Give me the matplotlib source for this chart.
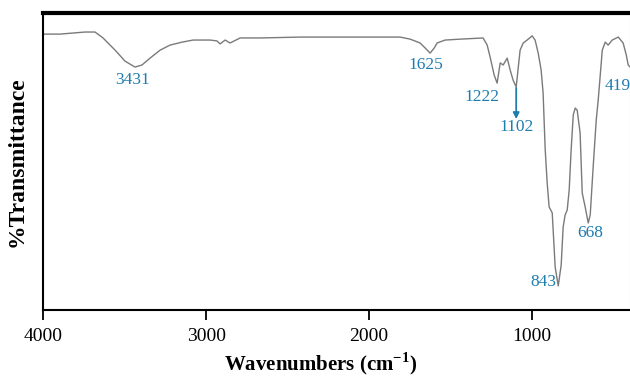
import matplotlib
matplotlib.use("Agg")
import matplotlib.pyplot as plt

# FTIR spectrum
wavenumber = [4000, 3896, 3742, 3681, 3632, 3558, 3497, 3436, 3393, 3344,
              3282, 3221, 3147, 3080, 2975, 2933, 2914, 2883, 2853, 2791,
              2669, 2423, 2117, 1810, 1748, 1687, 1656, 1626, 1601, 1583,
              1534, 1442, 1301, 1276, 1258, 1233, 1215, 1196, 1178, 1153,
              1135, 1117, 1098, 1074, 1055, 1031, 1000, 982, 963, 945,
              933, 920, 908, 896, 877, 859, 840, 822, 810, 798,
              785, 773, 761, 748, 736, 724, 706, 693, 675, 656,
              644, 626, 607, 595, 570, 552, 534, 509, 472, 442,
              423, 411, 399]
transmittance = [92.9, 92.9, 93.6, 93.6, 91.6, 87.5, 83.8, 81.8, 82.5, 84.8,
                 87.5, 89.2, 90.2, 90.9, 90.9, 90.6, 89.6, 90.9, 89.9, 91.6,
                 91.6, 91.9, 91.9, 91.9, 91.2, 89.9, 88.2, 86.5, 88.2, 89.9,
                 90.9, 91.2, 91.6, 89.2, 85.2, 79.1, 76.4, 83.2, 82.5, 84.8,
                 80.8, 77.4, 75.1, 87.5, 89.9, 90.9, 92.3, 90.9, 86.5, 80.8,
                 73.1, 53.9, 42.8, 34.7, 32.7, 14.5, 8.1, 15.2, 27.9, 32.0,
                 33.7, 40.4, 53.9, 65.7, 68.0, 67.3, 59.6, 39.4, 34.7, 29.3,
                 32.0, 48.1, 64.0, 70.7, 87.5, 90.2, 89.2, 90.9, 91.9, 89.9,
                 85.9, 82.5, 81.8]

# peak labels: text, x and y of the label centre
peak_text = ["3431", "1625", "1222", "1102", "843", "668", "419"]
peak_x = [3450, 1650, 1307, 1098, 929, 642, 478]
peak_y = [77.4, 82.5, 71.7, 61.6, 9.4, 25.9, 75.4]

x_ticks = [4000, 3000, 2000, 1000]

label_color = "#1f7db0"

fig = plt.figure(figsize=(6.3, 3.83), dpi=100)
ax = fig.add_axes([0.0683, 0.1906, 0.9317, 0.7754])

ax.plot(wavenumber, transmittance, color="#7a7a7a", lw=1.0)

for t, x, y in zip(peak_text, peak_x, peak_y):
    ax.text(x, y, t, color=label_color, fontsize=12.5, ha="center", va="center",
            family="Liberation Serif")

# arrow under the 1102 band
ax.annotate("", xy=(1098, 64.3), xytext=(1098, 74.8),
            arrowprops=dict(arrowstyle="-|>", color=label_color, lw=1.3,
                            mutation_scale=9, shrinkA=0, shrinkB=0))

ax.set_xlim(4000, 400)
ax.set_ylim(0, 100)
ax.set_xticks(x_ticks)
ax.set_xticklabels([str(v) for v in x_ticks], family="Liberation Serif",
                   fontsize=14)
ax.set_yticks([])
ax.tick_params(axis="x", direction="out", length=7, width=1.3, pad=6)

ax.spines["top"].set_linewidth(3)
ax.spines["left"].set_linewidth(1.5)
ax.spines["bottom"].set_linewidth(1.5)
ax.spines["right"].set_linewidth(0.8)
ax.spines["right"].set_color("#cccccc")

ax.set_xlabel("Wavenumbers (cm$^{\\mathregular{-1}}$)", family="Liberation Serif",
              fontsize=15, fontweight="bold")
ax.xaxis.set_label_coords(0.472, -0.135)
ax.set_ylabel("%Transmittance", family="Liberation Serif", fontsize=17,
              fontweight="bold", labelpad=11)

fig.savefig("out.png", dpi=100)
